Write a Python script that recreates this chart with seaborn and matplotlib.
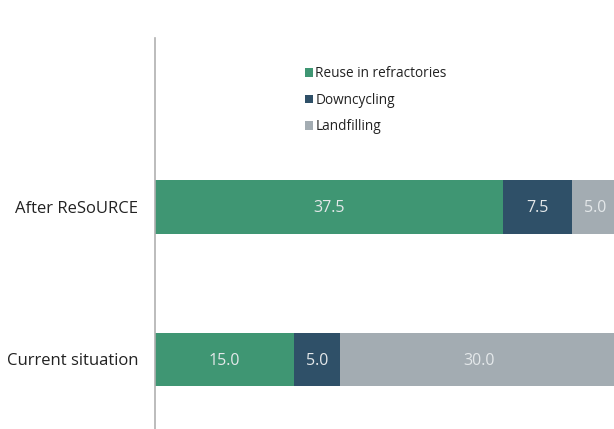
import matplotlib
matplotlib.use("Agg")
import matplotlib.pyplot as plt
import seaborn as sns
import numpy as np
import pandas as pd
from matplotlib.patches import Patch

categories = ["After ReSoURCE", "Current situation"]
series = ["Reuse in refractories", "Downcycling", "Landfilling"]
reuse = [37.5, 15.0]
downcycling = [7.5, 5.0]
landfilling = [5.0, 30.0]
colors = ["#3f9673", "#2f5068", "#a3acb2"]

sns.set_theme(style="white")
plt.rcParams['font.family'] = ['Open Sans', 'DejaVu Sans']

fig = plt.figure(figsize=(6.14, 4.29), dpi=100)
ax = fig.add_axes([155/614, 0.0, 1 - 155/614, (429-38)/429])

values = [reuse, downcycling, landfilling]
cum = np.cumsum(np.array(values), axis=0)

# draw from largest cumulative to smallest so that segments stack
for i in range(len(series) - 1, -1, -1):
    df = pd.DataFrame({"cat": categories, "val": cum[i]})
    sns.barplot(data=df, y="cat", x="val", orient="h", color=colors[i],
                width=0.35, saturation=1, ax=ax, edgecolor="none")

for i in range(len(series)):
    for j, cat in enumerate(categories):
        center = cum[i][j] - values[i][j] / 2
        ax.text(center, j + 0.01, f"{values[i][j]:.1f}", ha="center", va="center",
                color="#e4e8ea", fontsize=11.5)

ax.set_xlim(0, 49.5)
ax.set_ylim(1.456, -1.108)
ax.set_xlabel("")
ax.set_ylabel("")
ax.set_xticks([])
for s in ["top", "right", "bottom"]:
    ax.spines[s].set_visible(False)
ax.spines["left"].set_color("#b0b0b0")
ax.spines["left"].set_linewidth(1.2)
ax.tick_params(axis="y", length=0, pad=12, labelsize=12, labelcolor="#222222")

handles = [Patch(facecolor=c, edgecolor="none") for c in colors]
fig.legend(handles, series, loc="upper left", bbox_to_anchor=(293/614, 1 - 54/429),
           frameon=False, fontsize=9.8, handlelength=0.55, handleheight=0.55,
           handletextpad=0.2, labelspacing=0.85, labelcolor="#222222")

fig.savefig("out.png", dpi=100)
